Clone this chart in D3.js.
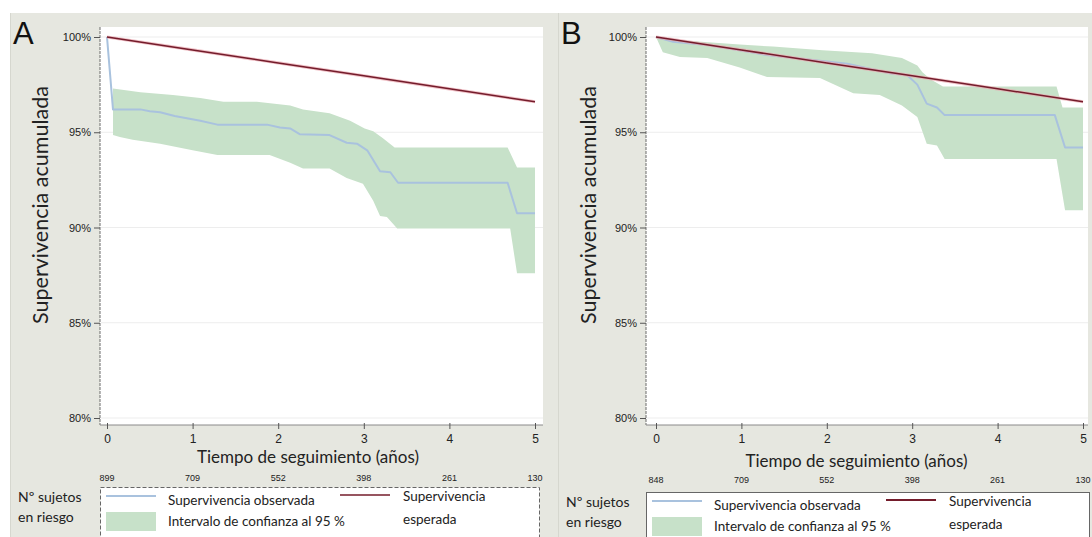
<!DOCTYPE html>
<html>
<head>
<meta charset="utf-8">
<script src="https://cdn.jsdelivr.net/npm/d3@7/dist/d3.min.js"></script>
<style>
  html, body { margin: 0; padding: 0; background: #ffffff; }
  svg { display: block; }
</style>
</head>
<body>
<svg id="fig" width="1092" height="537"></svg>
<script>
// Follow-up years and axis ticks
const years = [0, 1, 2, 3, 4, 5];
const yTicks = [80, 85, 90, 95, 100];
const riskA = [899, 709, 552, 398, 261, 130];
const riskB = [848, 709, 552, 398, 261, 130];

// Expected survival (both cohorts)
const expTime = [0, 1, 2, 3, 4, 5];
const expVal = [100, 99.32, 98.64, 97.96, 97.28, 96.6];

// Cohort A: observed Kaplan-Meier curve
const obsA_t = [0, 0.07, 0.39, 0.5, 0.62, 0.79, 1.09, 1.29, 1.87, 2.02, 2.14, 2.25, 2.6, 2.8, 2.92, 3.04, 3.19, 3.31, 3.4, 4.68, 4.79, 5.0];
const obsA_v = [100, 96.2, 96.2, 96.1, 96.05, 95.85, 95.6, 95.4, 95.4, 95.25, 95.2, 94.9, 94.85, 94.45, 94.4, 94.05, 92.95, 92.9, 92.35, 92.35, 90.75, 90.75];
// Cohort A: 95% confidence band (starts after the first event)
const upA_t = [0.07, 0.39, 0.77, 1.09, 1.36, 1.75, 2.14, 2.29, 2.6, 2.84, 3.01, 3.11, 3.22, 3.36, 4.68, 4.79, 5.0];
const upA_v = [97.3, 97.1, 96.95, 96.8, 96.6, 96.6, 96.4, 96.2, 96.0, 95.6, 95.2, 95.05, 94.7, 94.2, 94.2, 93.15, 93.15];
const loA_t = [0.07, 0.15, 0.3, 0.62, 1.0, 1.29, 1.9, 2.14, 2.29, 2.6, 2.8, 2.99, 3.11, 3.19, 3.27, 3.39, 4.71, 4.79, 5.0];
const loA_v = [94.85, 94.75, 94.6, 94.4, 94.05, 93.8, 93.8, 93.4, 93.1, 93.1, 92.6, 92.3, 91.4, 90.6, 90.55, 89.95, 89.95, 87.6, 87.6];

// Cohort B: observed Kaplan-Meier curve
const obsB_t = [0, 0.2, 0.6, 0.98, 1.3, 2.24, 2.74, 2.94, 3.06, 3.17, 3.29, 3.38, 4.67, 4.79, 5.0];
const obsB_v = [100, 99.75, 99.58, 99.3, 99.05, 98.6, 98.1, 98.0, 97.5, 96.5, 96.3, 95.9, 95.9, 94.2, 94.2];
// Cohort B: 95% confidence band
const upB_t = [0, 0.2, 0.98, 1.37, 1.95, 2.53, 2.88, 3.06, 3.12, 3.21, 3.36, 4.69, 4.76, 5.0];
const upB_v = [100, 99.85, 99.6, 99.5, 99.3, 99.15, 98.9, 98.5, 98.15, 97.8, 97.4, 97.4, 96.3, 96.3];
const loB_t = [0, 0.08, 0.28, 0.6, 0.98, 1.3, 1.92, 2.31, 2.62, 2.88, 3.06, 3.17, 3.29, 3.38, 4.69, 4.79, 5.0];
const loB_v = [100, 99.2, 98.95, 98.9, 98.4, 97.9, 97.85, 97.05, 96.95, 96.4, 95.8, 94.4, 94.3, 93.6, 93.6, 90.9, 90.9];

const C = {
  panel: "#e6e7e0",
  band: "#c7e1c9",
  obs: "#a9c2de",
  exp: "#741c2b",
  expHalo: "#e9a7af",
  grid: "#ededed",
  text: "#222222"
};
const sans = "'Liberation Sans', Arial, sans-serif";
const hum = "Lato, 'Open Sans', sans-serif";

const svg = d3.select("#fig");
const zip = (t, v) => t.map((d, i) => [d, v[i]]);

const panels = [
  { letter: "A", x0: 10, x1: 558, plotL: 100, plotR: 543, xr: [107, 535], risk: riskA,
    obs: zip(obsA_t, obsA_v), up: zip(upA_t, upA_v), lo: zip(loA_t, loA_v),
    dy: 0, boxR: 539, legDash: "4,2" },
  { letter: "B", x0: 558, x1: 1092, plotL: 646, plotR: 1088, xr: [656, 1083], risk: riskB,
    obs: zip(obsB_t, obsB_v), up: zip(upB_t, upB_v), lo: zip(loB_t, loB_v),
    dy: 5, boxR: 1089, legDash: null }
];

panels.forEach(p => {
  const g = svg.append("g");
  // panel backdrop
  g.append("rect").attr("x", p.x0).attr("y", 13).attr("width", p.x1 - p.x0).attr("height", 537 - 13)
    .attr("fill", C.panel);
  g.append("line").attr("x1", p.x0 + 0.5).attr("x2", p.x0 + 0.5).attr("y1", 13).attr("y2", 537)
    .attr("stroke", "#d6d7cf").attr("stroke-width", 1);

  const top = 27, bottom = 425;
  const x = d3.scaleLinear().domain([0, 5]).range(p.xr);
  const y = d3.scaleLinear().domain([80, 100]).range([418, 37]);

  // plotting region
  g.append("rect").attr("x", p.plotL).attr("y", top).attr("width", p.plotR - p.plotL).attr("height", bottom - top)
    .attr("fill", "#ffffff");

  // horizontal grid
  g.append("g").selectAll("line").data(yTicks).join("line")
    .attr("x1", p.plotL + 1).attr("x2", p.plotR)
    .attr("y1", d => y(d)).attr("y2", d => y(d))
    .attr("stroke", C.grid).attr("stroke-width", 1);

  // confidence band
  const line = d3.line().x(d => x(d[0])).y(d => y(d[1]));
  const poly = p.up.concat(p.lo.slice().reverse());
  g.append("path").attr("d", line(poly) + "Z").attr("fill", C.band).attr("stroke", "none");

  // observed survival
  g.append("path").attr("d", line(p.obs)).attr("fill", "none")
    .attr("stroke", C.obs).attr("stroke-width", 2).attr("stroke-linejoin", "round");

  // expected survival
  const expPts = zip(expTime, expVal);
  g.append("path").attr("d", line(expPts)).attr("fill", "none")
    .attr("stroke", C.expHalo).attr("stroke-width", 3.2).attr("opacity", 0.7);
  g.append("path").attr("d", line(expPts)).attr("fill", "none")
    .attr("stroke", C.exp).attr("stroke-width", 1.5);

  // y axis
  const yAxis = d3.axisLeft(y).tickValues(yTicks).tickSize(6).tickPadding(3).tickFormat(d => d + "%");
  const ya = g.append("g").attr("transform", `translate(${p.plotL},0)`).call(yAxis);
  ya.select(".domain").attr("d", `M0,${top}V${bottom}`).attr("stroke", "#6d6d6d").attr("stroke-dasharray", "3,1");
  ya.selectAll(".tick line").attr("stroke", "#555");
  ya.selectAll(".tick text").attr("font-family", sans).attr("font-size", 11).attr("fill", C.text);

  // x axis
  const xAxis = d3.axisBottom(x).tickValues(years).tickSize(0).tickPadding(9).tickFormat(d3.format("d"));
  const xa = g.append("g").attr("transform", `translate(0,${bottom})`).call(xAxis);
  xa.select(".domain").attr("d", `M${p.plotL},0H${p.plotR}`).attr("stroke", "#8a8a8a");
  xa.selectAll(".tick").append("line").attr("y1", -2).attr("y2", 4).attr("stroke", "#555");
  xa.selectAll(".tick text").attr("font-family", sans).attr("font-size", 12).attr("fill", C.text);

  // axis titles
  g.append("text").attr("x", (p.xr[0] + p.xr[1]) / 2 - 13).attr("y", 463 + p.dy * 0.8)
    .attr("text-anchor", "middle").attr("font-family", hum).attr("font-size", 17).attr("fill", C.text)
    .text("Tiempo de seguimiento (años)");
  g.append("text").attr("transform", `translate(${p.x0 + 38},205) rotate(-90)`)
    .attr("text-anchor", "middle").attr("font-family", hum).attr("font-size", 21.5).attr("fill", C.text)
    .text("Supervivencia acumulada");

  // panel letter
  g.append("text").attr("x", p.x0 + 3).attr("y", 44).attr("font-family", sans).attr("font-size", 31)
    .attr("fill", "#111").text(p.letter);

  // numbers at risk
  g.append("g").selectAll("text").data(years).join("text")
    .attr("x", d => x(d)).attr("y", 481 + p.dy * 0.4).attr("text-anchor", "middle")
    .attr("font-family", sans).attr("font-size", 9).attr("fill", C.text)
    .text((d, i) => p.risk[i]);
  g.append("text").attr("x", p.x0 + 8).attr("y", 502 + p.dy).attr("font-family", hum).attr("font-size", 14)
    .attr("fill", C.text).text("Nº sujetos");
  g.append("text").attr("x", p.x0 + 8).attr("y", 522 + p.dy).attr("font-family", hum).attr("font-size", 14)
    .attr("fill", C.text).text("en riesgo");

  // legend
  const by = 487 + p.dy;
  const lg = g.append("g");
  lg.append("rect").attr("x", p.plotL + 0.5).attr("y", by + 0.5).attr("width", p.boxR - p.plotL).attr("height", 80)
    .attr("fill", "#ffffff").attr("stroke", "#666").attr("stroke-width", 1)
    .attr("stroke-dasharray", p.legDash);
  const lx = p.plotL + 6;
  lg.append("line").attr("x1", lx).attr("x2", lx + 50).attr("y1", by + 9).attr("y2", by + 9)
    .attr("stroke", C.obs).attr("stroke-width", 2);
  lg.append("rect").attr("x", lx).attr("y", by + 25).attr("width", 50).attr("height", 19).attr("fill", C.band);
  lg.append("text").attr("x", lx + 62).attr("y", by + 18).attr("font-family", hum).attr("font-size", 13.5)
    .attr("fill", C.text).text("Supervivencia observada");
  lg.append("text").attr("x", lx + 62).attr("y", by + 39).attr("font-family", hum).attr("font-size", 13.5)
    .attr("fill", C.text).text("Intervalo de confianza al 95 %");
  lg.append("line").attr("x1", lx + 234).attr("x2", lx + 284).attr("y1", by + 8).attr("y2", by + 8)
    .attr("stroke", C.exp).attr("stroke-width", p.letter === "B" ? 2.2 : 1.4);
  lg.append("text").attr("x", lx + 297).attr("y", by + 14).attr("font-family", hum).attr("font-size", 13.5)
    .attr("fill", C.text).text("Supervivencia");
  lg.append("text").attr("x", lx + 297).attr("y", by + 37).attr("font-family", hum).attr("font-size", 13.5)
    .attr("fill", C.text).text("esperada");
});
</script>
</body>
</html>
